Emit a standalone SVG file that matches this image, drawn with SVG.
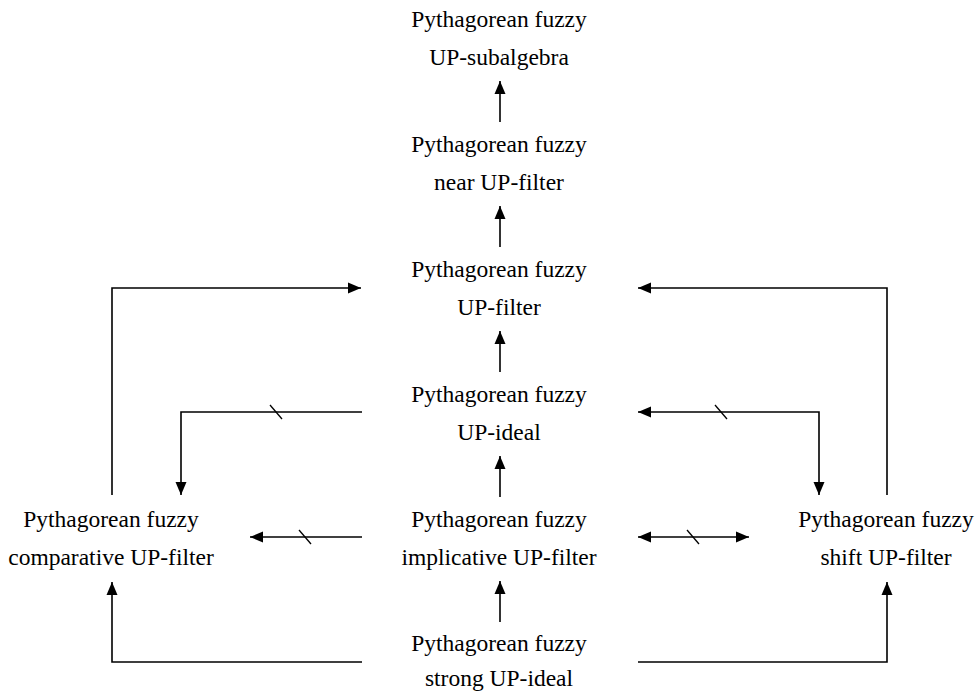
<svg xmlns="http://www.w3.org/2000/svg" width="976" height="693" viewBox="0 0 976 693">
<style>
text{font-family:"Liberation Serif","Times New Roman",serif;font-size:23.5px;fill:#000;text-anchor:middle}
.c line,.c polyline{stroke:#000;stroke-width:1.6;fill:none}
.c .t{stroke-width:1.3}
</style>
<defs>
<marker id="ah" markerUnits="userSpaceOnUse" markerWidth="14" markerHeight="12" refX="13" refY="6" orient="auto-start-reverse" viewBox="0 0 14 12">
<path d="M0,0.5 L13,6 L0,11.5 Z" fill="#000"/>
</marker>
</defs>
<rect width="976" height="693" fill="#fff"/>
<g id="n1"><text x="499" y="27">Pythagorean fuzzy</text><text x="499" y="65">UP-subalgebra</text></g>
<g id="n2"><text x="499" y="152">Pythagorean fuzzy</text><text x="499" y="190">near UP-filter</text></g>
<g id="n3"><text x="499" y="277">Pythagorean fuzzy</text><text x="499" y="315">UP-filter</text></g>
<g id="n4"><text x="499" y="402">Pythagorean fuzzy</text><text x="499" y="440">UP-ideal</text></g>
<g id="n5"><text x="499" y="527">Pythagorean fuzzy</text><text x="499" y="565">implicative UP-filter</text></g>
<g id="n6"><text x="499" y="651">Pythagorean fuzzy</text><text x="499" y="686">strong UP-ideal</text></g>
<g id="n7"><text x="111" y="527">Pythagorean fuzzy</text><text x="111" y="565">comparative UP-filter</text></g>
<g id="n8"><text x="886" y="527">Pythagorean fuzzy</text><text x="886" y="565">shift UP-filter</text></g>
<g id="connectors" class="c">
<line x1="500" y1="122" x2="500" y2="81" marker-end="url(#ah)"/>
<line x1="500" y1="247" x2="500" y2="206" marker-end="url(#ah)"/>
<line x1="500" y1="372" x2="500" y2="331" marker-end="url(#ah)"/>
<line x1="500" y1="497" x2="500" y2="456" marker-end="url(#ah)"/>
<line x1="500" y1="622" x2="500" y2="581" marker-end="url(#ah)"/>
<polyline points="112,495 112,288 361,288" marker-end="url(#ah)"/>
<polyline points="887,495 887,288 638,288" marker-end="url(#ah)"/>
<polyline points="362,412 181,412 181,495" marker-end="url(#ah)"/>
<polyline points="638,412 819,412 819,495" marker-start="url(#ah)" marker-end="url(#ah)"/>
<line x1="362" y1="537" x2="250" y2="537" marker-end="url(#ah)"/>
<line x1="638" y1="537" x2="749" y2="537" marker-start="url(#ah)" marker-end="url(#ah)"/>
<polyline points="362,662 112,662 112,582" marker-end="url(#ah)"/>
<polyline points="638,662 887,662 887,582" marker-end="url(#ah)"/>
<line class="t" x1="270" y1="405" x2="282" y2="419"/>
<line class="t" x1="715" y1="405" x2="727" y2="419"/>
<line class="t" x1="687" y1="530" x2="699" y2="544"/>
<line class="t" x1="299" y1="530" x2="311" y2="544"/>
</g>
</svg>
